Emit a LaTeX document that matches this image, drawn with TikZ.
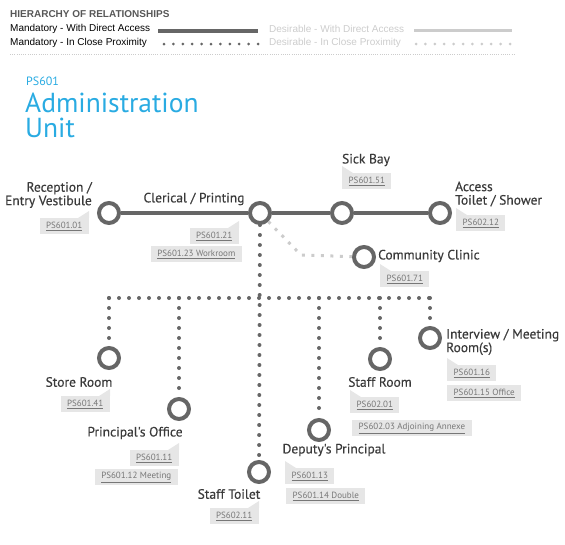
\documentclass[tikz,border=0pt]{standalone}
\usepackage{fontspec}
\setmainfont{PT Sans}
\newfontfamily\legendfont{Liberation Sans}
\newfontfamily\roomfont[FakeBold=0.35]{PT Sans}
\usetikzlibrary{positioning,calc}
\definecolor{adLine}{HTML}{666666}
\definecolor{adText}{HTML}{3A3A3A}
\definecolor{adSoft}{HTML}{CCCCCC}
\definecolor{adTitle}{HTML}{29ABE2}
\definecolor{adTagFill}{HTML}{E6E6E6}
\definecolor{adTagText}{HTML}{777777}
\tikzset{
    adRoom/.style={
        circle,
        draw=adLine,
        line width=4pt,
        fill=white,
        minimum size=20pt,
        inner sep=0pt
    },
    adLabel/.style={
        font=\roomfont\fontsize{13.5}{13.5}\selectfont,
        text=adText,
        inner sep=0pt
    },
    adTag/.style={
        fill=adTagFill,
        text=adTagText,
        font=\fontsize{9}{9}\selectfont,
        minimum height=16pt,
        inner xsep=6.5pt,
        inner ysep=0pt
    },
    % Relationships
    adDirect/.style={draw=adLine, line width=4pt},
    adClose/.style={draw=adLine, line width=4pt, line cap=round, dash pattern=on 0pt off 10pt},
    adSoftDirect/.style={draw=adSoft, line width=3pt},
    adSoftClose/.style={draw=adSoft, line width=3pt, dash pattern=on 3pt off 6.5pt},
    % Legend
    adLegend/.style={font=\legendfont\fontsize{10}{10}\selectfont, anchor=west, inner sep=0pt}
}

\begin{document}
\begin{tikzpicture}[x=1pt, y=-1pt]
\useasboundingbox (0,0) rectangle (565,544);

% legend
\node[adLegend, font=\legendfont\bfseries\fontsize{10}{10}\selectfont, text=adText!85] (lgTitle) at (10,14) {HIERARCHY OF RELATIONSHIPS};
\node[adLegend] (lgMandDirect) at (10,29) {Mandatory - With Direct Access};
\node[adLegend] (lgMandClose) at (10,43) {Mandatory - In Close Proximity};
\node[adLegend, text=adSoft] (lgDesDirect) at (269,29) {Desirable - With Direct Access};
\node[adLegend, text=adSoft] (lgDesClose) at (269,43) {Desirable - In Close Proximity};
\draw[draw=adLine, line width=3.5pt] (158,31) -- (258,31);
\draw[draw=adLine, line width=3pt, line cap=round, dash pattern=on 0pt off 9.4pt] (164,44) -- (258.5,44);
\draw[adSoftDirect] (414,30) -- (512,30);
\draw[draw=adSoft, line width=3pt, line cap=round, dash pattern=on 0pt off 9.4pt] (416,44) -- (512,44);
\draw[draw=adSoft, line width=0.6pt, dash pattern=on 0.6pt off 1.6pt] (10,54) -- (515,54);

% title
\node[anchor=base west, inner sep=0pt, text=adTitle, font=\fontsize{12}{12}\selectfont] (unitCode) at (26,85) {PS601};
\node[anchor=base west, inner sep=0pt, text=adTitle, font=\fontsize{27.5}{27.5}\selectfont] (unitName) at (25,112) {Administration};
\node[anchor=base west, inner sep=0pt, text=adTitle, font=\fontsize{27.5}{27.5}\selectfont] (unitWord) at (25,137) {Unit};

% rooms
\node[adRoom] (reception) at (109,213) {};
\node[adRoom] (clerical) at (260,213) {};
\node[adRoom] (sickbay) at (342,213) {};
\node[adRoom] (access) at (440,213) {};
\node[adRoom] (clinic) at (364,257) {};
\node[adRoom] (store) at (109,358) {};
\node[adRoom] (principal) at (179,409) {};
\node[adRoom] (stafftoilet) at (259,472) {};
\node[adRoom] (deputy) at (319,430) {};
\node[adRoom] (staffroom) at (380,359) {};
\node[adRoom] (interview) at (430,338) {};

\coordinate (busY) at (0,298);
\coordinate (softBend) at (301,255);

% connections
\draw[adDirect] (reception) -- (clerical) -- (sickbay) -- (access);
\draw[adClose] (clerical) -- (stafftoilet);
\draw[adClose] (store |- busY) -- (interview |- busY);
\foreach \r in {store,principal,deputy,staffroom,interview}
    \draw[adClose] (\r |- busY) -- (\r);
\draw[adSoftClose] (clerical) -- (softBend) -- (clinic);

% labels
\node[adLabel, anchor=east, align=right] (lbReception) at (92,195) {Reception /\\Entry Vestibule};
\node[adLabel] (lbClerical) at (194,199) {Clerical / Printing};
\node[adLabel] (lbSickbay) at (366,160) {Sick Bay};
\node[adLabel, anchor=west, align=left] (lbAccess) at (455,194) {Access\\Toilet / Shower};
\node[adLabel, anchor=west] (lbClinic) at (378,256) {Community Clinic};
\node[adLabel] (lbStore) at (79,382) {Store Room};
\node[adLabel] (lbPrincipal) at (135,433) {Principal's Office};
\node[adLabel] (lbStafftoilet) at (229,494) {Staff Toilet};
\node[adLabel] (lbDeputy) at (334,450) {Deputy's Principal};
\node[adLabel] (lbStaffroom) at (380,382) {Staff Room};
\node[adLabel, anchor=west, align=left] (lbInterview) at (446,342) {Interview / Meeting\\Room(s)};

% tags
\node[adTag, anchor=north east] (tag0101) at (89,218) {\underline{PS601.01}};
\node[adTag, anchor=north east] (tag0121) at (239,228) {\underline{PS601.21}};
\node[adTag, anchor=north east] (tag0123) at (242,246) {\underline{PS601.23 Workroom}};
\node[adTag, anchor=north west] (tag0151) at (342,173) {\underline{PS601.51}};
\node[adTag, anchor=north west] (tag0212) at (456,215) {\underline{PS602.12}};
\node[adTag, anchor=north west] (tag0171) at (380,271) {\underline{PS601.71}};
\node[adTag, anchor=north east] (tag0141) at (110,396) {\underline{PS601.41}};
\node[adTag, anchor=north east] (tag0111) at (179,450) {\underline{PS601.11}};
\node[adTag, anchor=north east] (tag0112) at (178,469) {\underline{PS601.12 Meeting}};
\node[adTag, anchor=north east] (tag0211) at (259,508) {\underline{PS602.11}};
\node[adTag, anchor=north west] (tag0113) at (285,468) {\underline{PS601.13}};
\node[adTag, anchor=north west] (tag0114) at (286,488) {\underline{PS601.14 Double}};
\node[adTag, anchor=north west] (tag0201) at (350,397) {\underline{PS602.01}};
\node[adTag, anchor=north west] (tag0203) at (352,420) {\underline{PS602.03 Adjoining Annexe}};
\node[adTag, anchor=north west] (tag0116) at (447,365) {\underline{PS601.16}};
\node[adTag, anchor=north west] (tag0115) at (447,385) {\underline{PS601.15 Office}};

\foreach \t in {tag0101,tag0121,tag0141,tag0111,tag0211}
    \fill[adTagFill] (\t.north east) -- ([xshift=-11pt]\t.north east) -- ([yshift=7pt]\t.north east) -- cycle;
\foreach \t in {tag0151,tag0212,tag0171,tag0113,tag0201,tag0116}
    \fill[adTagFill] (\t.north west) -- ([xshift=11pt]\t.north west) -- ([yshift=7pt]\t.north west) -- cycle;
\end{tikzpicture}
\end{document}
